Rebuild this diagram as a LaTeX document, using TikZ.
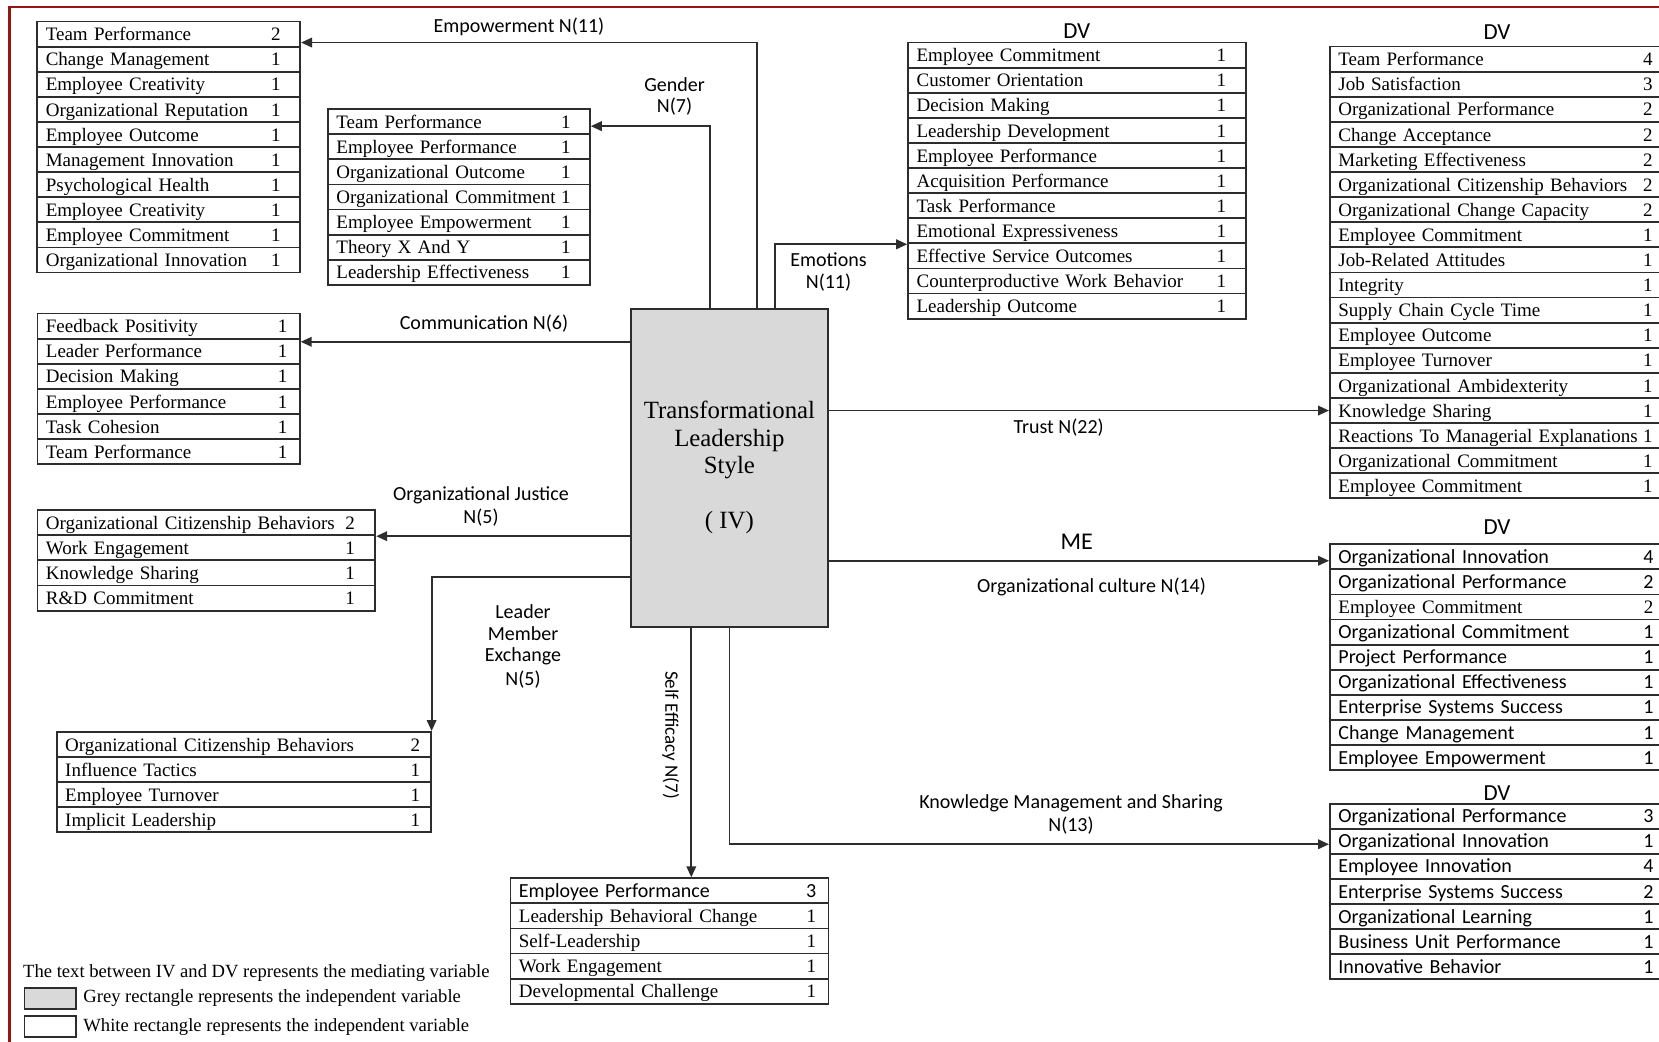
\documentclass[tikz,border=0pt]{standalone}
\usepackage{fontspec}
\setmainfont{Liberation Serif}
\newfontfamily\calfont{Carlito}
\usetikzlibrary{calc,arrows.meta}

\definecolor{ivgrey}{RGB}{217,217,217}
\definecolor{framered}{RGB}{150,22,22}
\definecolor{linegrey}{RGB}{45,45,45}

\newcommand\rowserif{\rmfamily\fontsize{9.5}{11.5}\selectfont}
\newcommand\rowsans{\calfont\fontsize{10}{12}\selectfont}

% one table: name, left, top, width, number offset from right edge, font, rows (text/number)
\newcommand\datatable[7]{%
  \pgfmathsetmacro\tabw{#4*0.5}%
  \pgfmathsetmacro\tabtw{#4*0.5-8.5}%
  \foreach [count=\i] \tx/\nm in {#7} {
    \node[rowbox, font=#6, minimum width=\tabw pt, text width=\tabtw pt]
      (#1-\i) at ({#2},{#3+(\i-1)*25.1}) {\tx};
    \node[numbox, font=#6] (#1-\i-n) at ($(#1-\i.east)+(-#5,0)$) {\nm};
  }%
}

\tikzset{
  rowbox/.style={draw=linegrey, line width=0.9pt, rectangle, anchor=north west,
    minimum height=12.55pt, inner xsep=4.25pt, inner ysep=0pt, align=left,
    text height=8pt, text depth=1.4pt},
  numbox/.style={inner sep=0pt, text height=8pt, text depth=1.4pt},
  conn/.style={draw=linegrey, line width=0.9pt, -{Triangle[length=5.5pt,width=4.8pt]}},
  lbl/.style={font=\calfont\fontsize{10}{12}\selectfont, inner sep=0pt},
  dvlbl/.style={font=\calfont\fontsize{11.5}{13}\selectfont, inner sep=0pt},
  ivbox/.style={draw=linegrey, line width=0.9pt, fill=ivgrey, minimum width=98.7pt,
    minimum height=158.85pt, inner sep=0pt, align=center,
    font=\rmfamily\fontsize{12.4}{13.75}\selectfont},
  legtext/.style={font=\rmfamily\fontsize{9.3}{11}\selectfont, inner sep=0pt, anchor=west},
  legbox/.style={draw=linegrey, line width=0.8pt, minimum width=25.75pt, minimum height=10.65pt, inner sep=0pt}
}

\begin{document}
\begin{tikzpicture}[x=0.5pt, y=-0.5pt]
\useasboundingbox (0,0) rectangle (1659,1042);
\clip (0,0) rectangle (1659,1042);

% outer frame
\draw[framered, line width=1.1pt] (9.5,1060) -- (9.5,7.3) -- (1680,7.3);

% independent variable
\node[ivbox] (iv) at (729.4,467.85) {Transformational\\Leadership\\Style\\[13.75pt]( IV)};

% outcome tables
\datatable{A}{36.4}{20.7}{262.9}{25.3}{\rowserif}{Team Performance/2, Change Management/1, Employee Creativity/1, Organizational Reputation/1, Employee Outcome/1, Management Innovation/1, Psychological Health/1, Employee Creativity/1, Employee Commitment/1, Organizational Innovation/1}

\datatable{B}{327}{108.3}{262}{25}{\rowserif}{Team Performance/1, Employee Performance/1, Organizational Outcome/1, Organizational Commitment/1, Employee Empowerment/1, Theory X And Y/1, Leadership Effectiveness/1}

\datatable{C}{907.2}{41.7}{338}{25.7}{\rowserif}{Employee Commitment/1, Customer Orientation/1, Decision Making/1, Leadership Development/1, Employee Performance/1, Acquisition Performance/1, Task Performance/1, Emotional Expressiveness/1, Effective Service Outcomes/1, Counterproductive Work Behavior/1, Leadership Outcome/1}

\datatable{D}{1329}{45.7}{333}{16}{\rowserif}{Team Performance/4, Job Satisfaction/3, Organizational Performance/2, Change Acceptance/2, Marketing Effectiveness/2, Organizational Citizenship Behaviors/2, Organizational Change Capacity/2, Employee Commitment/1, Job-Related Attitudes/1, Integrity/1, Supply Chain Cycle Time/1, Employee Outcome/1, Employee Turnover/1, Organizational Ambidexterity/1, Knowledge Sharing/1, Reactions To Managerial Explanations/1, Organizational Commitment/1, Employee Commitment/1}

\datatable{E}{1329}{543.3}{333}{15.3}{\rowsans}{Organizational Innovation/4, Organizational Performance/2, {\rowserif Employee Commitment}/{\rowserif 2}, Organizational Commitment/1, Project Performance/1, Organizational Effectiveness/1, Enterprise Systems Success/1, Change Management/1, Employee Empowerment/1}

\datatable{F}{1329}{802.7}{333}{15.3}{\rowsans}{Organizational Performance/3, Organizational Innovation/1, Employee Innovation/4, Enterprise Systems Success/2, Organizational Learning/1, Business Unit Performance/1, Innovative Behavior/1}

\datatable{G}{509.5}{877.3}{318.1}{18.1}{\rowserif}{{\rowsans Employee Performance}/{\rowsans 3}, Leadership Behavioral Change/1, Self-Leadership/1, Work Engagement/1, Developmental Challenge/1}

\datatable{H}{36.5}{312.7}{262.4}{18.2}{\rowserif}{Feedback Positivity/1, Leader Performance/1, Decision Making/1, Employee Performance/1, Task Cohesion/1, Team Performance/1}

\datatable{I}{36.5}{509.3}{337.9}{26.1}{\rowserif}{Organizational Citizenship Behaviors/2, Work Engagement/1, Knowledge Sharing/1, R\&D Commitment/1}

\datatable{J}{55.8}{731}{374}{16.2}{\rowserif}{Organizational Citizenship Behaviors/2, Influence Tactics/1, Employee Turnover/1, Implicit Leadership/1}

% DV headings
\node[dvlbl] (dvC) at (1076.8,30.7) {DV};
\node[dvlbl] (dvD) at (1497,32.3) {DV};
\node[dvlbl] (dvE) at (1497,526.7) {DV};
\node[dvlbl] (dvF) at (1497,793.3) {DV};

% connectors from the independent variable
\coordinate (empS) at ($(iv.north west)+(127.1,0)$);
\coordinate (empT) at ($(A-1.east)+(0,8.4)$);
\draw[conn] (empS) |- (empT);

\coordinate (genS) at ($(iv.north west)+(80,0)$);
\coordinate (genT) at ($(B-1.east)+(0,4.4)$);
\draw[conn] (genS) |- (genT);

\coordinate (emoS) at ($(iv.north west)+(145.3,0)$);
\draw[conn] (emoS) |- (C-8.south west);

\coordinate (comT) at ($(H-2.north east)+(0,4)$);
\draw[conn] (iv.west |- comT) -- (comT);

\draw[conn] (iv.west |- I-1.south east) -- (I-1.south east);

\coordinate (lmxS) at ($(iv.south west)+(0,-50.7)$);
\draw[conn] (lmxS) -| (J-1.north east);

\coordinate (seS) at ($(iv.south west)+(61.5,0)$);
\draw[conn] (seS) -- (seS |- G-1.north);

\coordinate (kmT) at ($(F-2.west)+(0,3)$);
\draw[conn] (iv.south) |- (kmT);

\draw[conn] (iv.east |- D-15.west) -- (D-15.west);

\coordinate (meT) at ($(E-1.west)+(0,4)$);
\draw[conn] (iv.east |- meT) -- (meT);

% mediator labels
\node[lbl] (lEmp) at (519,27.3) {Empowerment N(11)};
\node[lbl] (lGen1) at (674.5,85) {Gender};
\node[lbl] (lGen2) at (674.5,106.7) {N(7)};
\node[lbl] (lEmo1) at (828.5,260) {Emotions};
\node[lbl] (lEmo2) at (828.5,282.7) {N(11)};
\node[lbl] (lCom) at (484,323.3) {Communication N(6)};
\node[lbl] (lOj1) at (481,495) {Organizational Justice};
\node[lbl] (lOj2) at (481,517.7) {N(5)};
\node[lbl] (lLmx1) at (523,611.7) {Leader};
\node[lbl] (lLmx2) at (523,634) {Member};
\node[lbl] (lLmx3) at (523,656.7) {Exchange};
\node[lbl] (lLmx4) at (523,679.3) {N(5)};
\node[lbl] (lTrust) at (1058.7,427.7) {Trust N(22)};
\node[lbl, font=\calfont\fontsize{12}{14}\selectfont] (lMe) at (1076.8,542.3) {ME};
\node[lbl] (lCul) at (1091.6,586.7) {Organizational culture N(14)};
\node[lbl] (lKm1) at (1071,803.3) {Knowledge Management and Sharing};
\node[lbl] (lKm2) at (1071,825.7) {N(13)};
\node[lbl, font=\calfont\fontsize{9.5}{11}\selectfont, rotate=-90] (lSe) at (670.8,735) {Self Efficacy N(7)};

% legend
\node[legtext] (leg1) at (22.8,973.3) {The text between IV and DV represents the mediating variable};
\node[legbox, fill=ivgrey] (legG) at (50.15,998.35) {};
\node[legtext] (leg2) at (83,998.3) {Grey rectangle represents the independent variable};
\node[legbox] (legW) at (50.15,1026.5) {};
\node[legtext] (leg3) at (83,1027.3) {White rectangle represents the independent variable};
\end{tikzpicture}
\end{document}
